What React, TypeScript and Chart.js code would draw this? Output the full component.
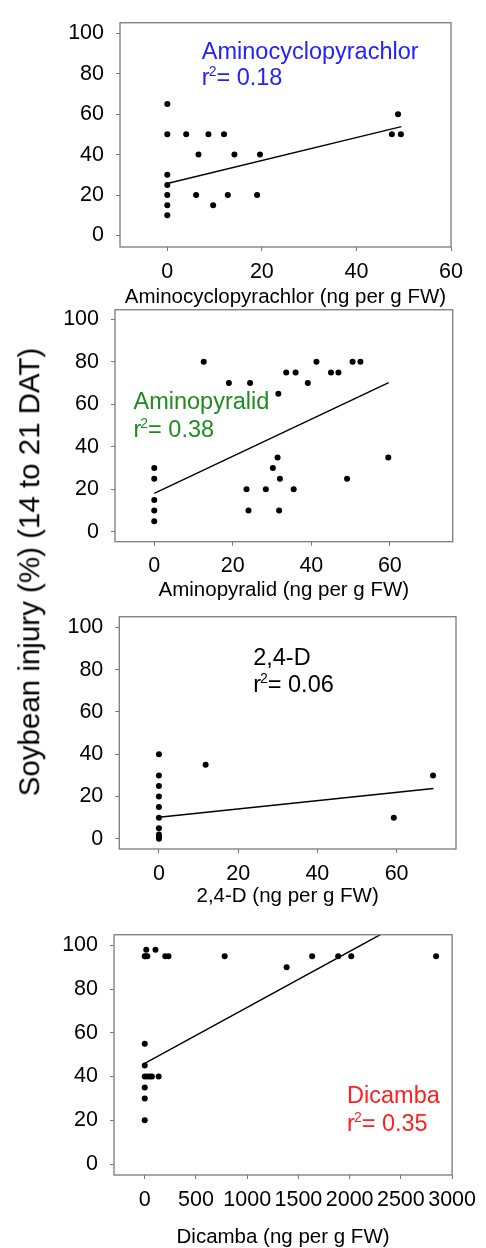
import React, { useEffect, useRef } from 'react';
import { Chart, registerables } from 'chart.js';

Chart.register(...registerables);

// ---------- data ----------
const yTicks = [0, 20, 40, 60, 80, 100];

// Aminocyclopyrachlor
const acX = [0, 0, 0, 0, 0, 0, 0, 4.0, 8.7, 12.0, 6.6, 14.2, 19.6, 6.1, 9.7, 12.8, 19.0, 47.5, 48.8, 49.4];
const acY = [65, 50, 30, 25, 20, 15, 10, 50, 50, 50, 40, 40, 40, 20, 15, 20, 20, 50, 60, 50];
const acFitX = [0, 49.5];
const acFitY = [25.7, 53.8];
const acXTicks = [0, 20, 40, 60];

// Aminopyralid
const apX = [12.6, 19.0, 24.4, 31.6, 33.6, 36.0, 39.1, 41.3, 45.0, 46.9, 50.5, 52.5, 0, 0, 0, 0, 0, 23.5, 24.0, 28.4, 30.2, 31.4, 32.0, 31.8, 35.5, 49.1, 59.6];
const apY = [80, 70, 70, 65, 75, 75, 70, 80, 75, 75, 80, 80, 30, 25, 15, 10, 5, 20, 10, 20, 30, 35, 25, 10, 20, 25, 35];
const apFitX = [0, 59.7];
const apFitY = [18.1, 70.2];
const apXTicks = [0, 20, 40, 60];

// 2,4-D
const dX = [0, 0, 0, 0, 0, 0, 0, 0, 0, 0, 11.8, 59.3, 69.2];
const dY = [40, 30, 25, 20, 15, 10, 5, 2, 1, 0, 35, 10, 30];
const dFitX = [0, 69.3];
const dFitY = [10.2, 23.8];
const dXTicks = [0, 20, 40, 60];

// Dicamba
const dicX = [0, 0, 0, 0, 0, 0, 0, 15, 105, 25, 3, 200, 232, 780, 1385, 1634, 1888, 2016, 2844, 25, 50, 70, 136];
const dicY = [20, 30, 35, 40, 45, 55, 95, 98, 98, 95, 95, 95, 95, 95, 90, 95, 95, 95, 95, 40, 40, 40, 40];
const dicFitX = [0, 2305];
const dicFitY = [46, 105];
const dicXTicks = [0, 500, 1000, 1500, 2000, 2500, 3000];

const yTitle = 'Soybean injury (%) (14 to 21 DAT)';

// ---------- layout / style ----------
const FONT = "'Liberation Sans', Arial, Helvetica, sans-serif";
const PAGE_W = 486;

type PanelCfg = {
  xs: number[]; ys: number[]; fx: number[]; fy: number[]; xTicks: number[];
  xMin: number; xMax: number; yMin: number; yMax: number;
  name: string; r2: string; color: string; anchor: [number, number, number];
  xTitle: string;
  top: number; height: number; area: { l: number; r: number; t: number; b: number };
};

const panels: PanelCfg[] = [
  {
    xs: acX, ys: acY, fx: acFitX, fy: acFitY, xTicks: acXTicks,
    xMin: -10, xMax: 60, yMin: -5.7, yMax: 105.2,
    name: 'Aminocyclopyrachlor', r2: '0.18', color: '#2222ff', anchor: [7.3, 87.3, 74.3],
    xTitle: 'Aminocyclopyrachlor (ng per g FW)',
    top: 0, height: 308, area: { l: 120, r: 451, t: 14, b: 247 },
  },
  {
    xs: apX, ys: apY, fx: apFitX, fy: apFitY, xTicks: apXTicks,
    xMin: -10, xMax: 76, yMin: -4.65, yMax: 104.5,
    name: 'Aminopyralid', r2: '0.38', color: '#1e8c1e', anchor: [-5.3, 57.9, 44.5],
    xTitle: 'Aminopyralid (ng per g FW)',
    top: 287, height: 314, area: { l: 115, r: 452.7, t: 307.3, b: 541.7 },
  },
  {
    xs: dX, ys: dY, fx: dFitX, fy: dFitY, xTicks: dXTicks,
    xMin: -10, xMax: 75, yMin: -4.8, yMax: 105,
    name: '2,4-D', r2: '0.06', color: '#000000', anchor: [23.8, 82, 69.2],
    xTitle: '2,4-D (ng per g FW)',
    top: 594, height: 313, area: { l: 119.3, r: 456, t: 614, b: 849 },
  },
  {
    xs: dicX, ys: dicY, fx: dicFitX, fy: dicFitY, xTicks: dicXTicks,
    xMin: -300, xMax: 3000, yMin: -4.98, yMax: 104.8,
    name: 'Dicamba', r2: '0.35', color: '#ff2020', anchor: [1975, 27.8, 15],
    xTitle: 'Dicamba (ng per g FW)',
    top: 912, height: 336, area: { l: 114, r: 460.7, t: 932.7, b: 1175 },
  },
];

function PanelChart({ p }: { p: PanelCfg }) {
  const ref = useRef<HTMLCanvasElement | null>(null);
  useEffect(() => {
    if (!ref.current) return;
    const pts = p.xs.map((x, i) => ({ x, y: p.ys[i] }));
    const fit = p.fx.map((x, i) => ({ x, y: p.fy[i] }));
    const padTop = p.area.t - p.top;
    const xAxisH = p.top + p.height - p.area.b;
    const padRight = PAGE_W - p.area.r;

    const framePlugin = {
      id: 'frame',
      afterDraw(chart: any) {
        const { ctx, chartArea: a } = chart;
        ctx.save();
        ctx.strokeStyle = '#7a7a7a';
        ctx.lineWidth = 1.3;
        ctx.strokeRect(a.left, a.top, a.right - a.left, a.bottom - a.top);
        ctx.restore();
      },
    };

    const annoPlugin = {
      id: 'anno',
      afterDatasetsDraw(chart: any) {
        const ctx = chart.ctx;
        const xs = chart.scales.x, ys = chart.scales.y;
        const x0 = xs.getPixelForValue(p.anchor[0]);
        const y1 = ys.getPixelForValue(p.anchor[1]);
        const y2 = ys.getPixelForValue(p.anchor[2]);
        ctx.save();
        ctx.fillStyle = p.color;
        ctx.textAlign = 'left';
        ctx.textBaseline = 'alphabetic';
        ctx.font = `23.5px ${FONT}`;
        ctx.fillText(p.name, x0, y1);
        ctx.fillText('r', x0, y2);
        const wr = ctx.measureText('r').width;
        ctx.font = `14px ${FONT}`;
        ctx.fillText('2', x0 + wr - 1, y2 - 9.5);
        const w2 = ctx.measureText('2').width;
        ctx.font = `23.5px ${FONT}`;
        ctx.fillText('= ' + p.r2, x0 + wr - 1 + w2, y2);
        ctx.restore();
      },
    };

    const chart = new Chart(ref.current, {
      type: 'scatter',
      data: {
        datasets: [
          {
            data: pts,
            backgroundColor: '#000',
            borderWidth: 0,
            pointRadius: 3,
            pointHoverRadius: 3,
            order: 1,
          },
          {
            data: fit,
            showLine: true,
            borderColor: '#000',
            borderWidth: 1.4,
            pointRadius: 0,
            pointHoverRadius: 0,
            fill: false,
            order: 2,
          } as any,
        ],
      },
      options: {
        animation: false,
        responsive: false,
        events: [],
        layout: { padding: { left: 0, right: padRight, top: padTop, bottom: 0 } },
        plugins: { legend: { display: false }, tooltip: { enabled: false }, title: { display: false } },
        scales: {
          x: {
            type: 'linear',
            min: p.xMin,
            max: p.xMax,
            afterBuildTicks: (s: any) => { s.ticks = p.xTicks.map((v) => ({ value: v })); },
            afterFit: (s: any) => { s.height = xAxisH; },
            ticks: {
              autoSkip: false, maxRotation: 0, padding: 10, color: '#000',
              font: { family: FONT, size: 21.5, lineHeight: 1 },
              callback: (v: any) => String(v),
            },
            grid: { drawOnChartArea: false, drawTicks: true, tickLength: 4, color: '#777', lineWidth: 1 },
            border: { display: false },
            title: {
              display: true, text: p.xTitle, color: '#000', padding: 0,
              font: { family: FONT, size: 20.5, lineHeight: 1 },
            },
          },
          y: {
            type: 'linear',
            min: p.yMin,
            max: p.yMax,
            afterBuildTicks: (s: any) => { s.ticks = yTicks.map((v) => ({ value: v })); },
            afterFit: (s: any) => { s.width = p.area.l; },
            ticks: {
              autoSkip: false, padding: 12, color: '#000',
              font: { family: FONT, size: 21.5, lineHeight: 1 },
              callback: (v: any) => String(v),
            },
            grid: { drawOnChartArea: false, drawTicks: true, tickLength: 4, color: '#777', lineWidth: 1 },
            border: { display: false },
          },
        },
      },
      plugins: [framePlugin, annoPlugin],
    } as any);
    return () => chart.destroy();
  }, [p]);
  return (
    <canvas
      ref={ref}
      width={PAGE_W}
      height={p.height}
      style={{ position: 'absolute', left: 0, top: p.top, width: PAGE_W, height: p.height, display: 'block' }}
    />
  );
}

export default function App() {
  return (
    <div
      style={{
        position: 'absolute', left: 0, top: 0, width: PAGE_W, height: 1248,
        overflow: 'hidden', background: '#fff', fontFamily: FONT,
      }}
    >
      {panels.map((p, i) => (
        <PanelChart key={i} p={p} />
      ))}
      <div
        style={{
          position: 'absolute', left: 29, top: 572, transform: 'translate(-50%, -50%) rotate(-90deg)',
          whiteSpace: 'nowrap', fontSize: 29.5, lineHeight: 1, color: '#000', fontFamily: FONT,
        }}
      >
        {yTitle}
      </div>
    </div>
  );
}
